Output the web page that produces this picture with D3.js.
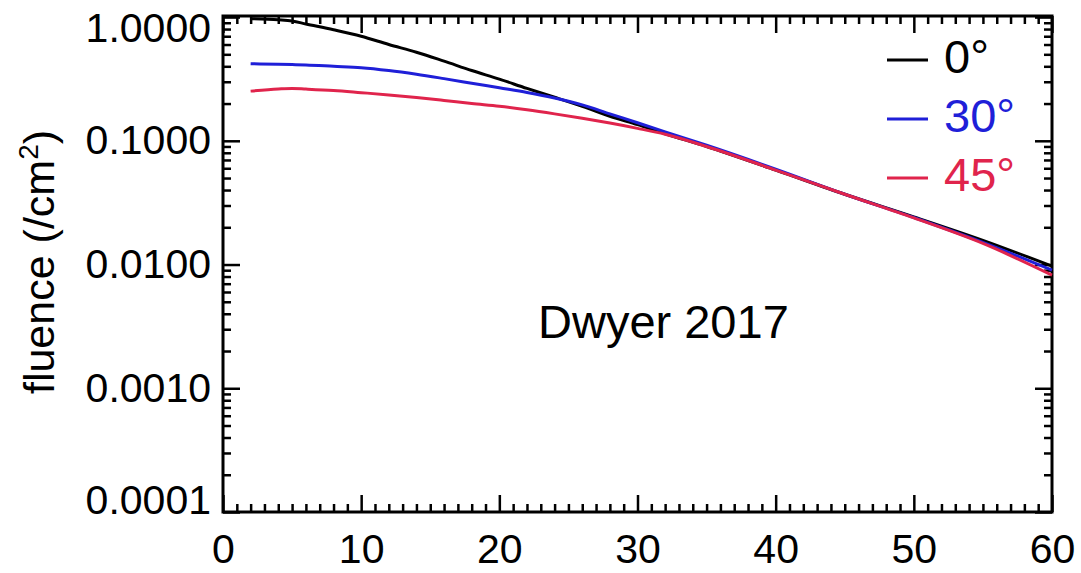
<!DOCTYPE html>
<html>
<head>
<meta charset="utf-8">
<script src="https://cdn.jsdelivr.net/npm/d3@7"></script>
<style>
  body { margin: 0; background: #fff; }
  text { font-family: "Liberation Sans", Arial, Helvetica, sans-serif; }
</style>
</head>
<body>
<div id="chart"></div>
<script>
var svgWidth = 1081;
var svgHeight = 573;

var margin = { top: 16, right: 29, bottom: 61, left: 223 };
var width = svgWidth - margin.left - margin.right;
var height = svgHeight - margin.top - margin.bottom;

// data
var depth = [2, 4, 5, 6, 8, 10, 12, 14, 16, 18, 20, 22, 24, 26, 28, 30, 32, 35, 40, 45, 50, 55, 60];
var fluence0 = [0.97, 0.95, 0.93, 0.88, 0.79, 0.70, 0.60, 0.52, 0.44, 0.37, 0.315, 0.265, 0.225, 0.19, 0.158, 0.135, 0.114, 0.09, 0.058, 0.037, 0.0243, 0.0157, 0.0097];
var fluence30 = [0.42, 0.415, 0.413, 0.41, 0.40, 0.39, 0.37, 0.345, 0.318, 0.292, 0.268, 0.246, 0.222, 0.195, 0.165, 0.14, 0.118, 0.092, 0.059, 0.037, 0.024, 0.0151, 0.0090];
var fluence45 = [0.252, 0.262, 0.265, 0.262, 0.255, 0.245, 0.235, 0.224, 0.212, 0.2, 0.19, 0.178, 0.165, 0.152, 0.139, 0.126, 0.113, 0.09, 0.058, 0.037, 0.0238, 0.0148, 0.0082];
var seriesNames = ["0", "30", "45"];
var seriesColors = ["#000000", "#1f1fd8", "#e0244c"];
var yTickValues = [0.0001, 0.001, 0.01, 0.1, 1];
var yTickLabels = ["0.0001", "0.0010", "0.0100", "0.1000", "1.0000"];
var xTickValues = [0, 10, 20, 30, 40, 50, 60];

var svg = d3.select("#chart")
    .append("svg")
    .attr("width", svgWidth)
    .attr("height", svgHeight);

var chartGroup = svg.append("g")
    .attr("transform", `translate(${margin.left}, ${margin.top})`);

var xScale = d3.scaleLinear().domain([0, 60]).range([0, width]);
var yScale = d3.scaleLog().domain([0.0001, 1.02]).range([height, 0]);

// minor tick values
var xMinor = d3.range(0, 61).filter(d => d % 10 !== 0);
var yMinor = [];
[0.0001, 0.001, 0.01, 0.1].forEach(function (dec) {
    for (var k = 2; k <= 9; k++) yMinor.push(dec * k);
});

function styleAxis(g) {
    g.select(".domain").remove();
    g.selectAll(".tick line").attr("stroke", "#000").attr("stroke-width", 2.5);
    return g;
}

// bottom
chartGroup.append("g")
    .attr("transform", `translate(0, ${height})`)
    .call(d3.axisBottom(xScale).tickValues(xTickValues).tickSizeInner(-17).tickSizeOuter(0).tickPadding(22))
    .call(styleAxis)
    .selectAll("text")
    .attr("font-size", "41px")
    .attr("fill", "#000");

chartGroup.append("g")
    .attr("transform", `translate(0, ${height})`)
    .call(d3.axisBottom(xScale).tickValues(xMinor).tickSizeInner(-8).tickSizeOuter(0).tickFormat(""))
    .call(styleAxis);

// top
chartGroup.append("g")
    .call(d3.axisTop(xScale).tickValues(xTickValues).tickSizeInner(-17).tickSizeOuter(0).tickFormat(""))
    .call(styleAxis);
chartGroup.append("g")
    .call(d3.axisTop(xScale).tickValues(xMinor).tickSizeInner(-8).tickSizeOuter(0).tickFormat(""))
    .call(styleAxis);

// left
var yLabels = chartGroup.append("g")
    .call(d3.axisLeft(yScale).tickValues(yTickValues).tickSizeInner(-17).tickSizeOuter(0).tickPadding(12)
        .tickFormat((d, i) => yTickLabels[i]))
    .call(styleAxis)
    .selectAll("text")
    .attr("font-size", "41px")
    .attr("fill", "#000");
// end labels pulled inside the frame, like the original
yLabels.filter(d => d === 1).attr("y", 11);
yLabels.filter(d => d === 0.0001).attr("y", -12);

chartGroup.append("g")
    .call(d3.axisLeft(yScale).tickValues(yMinor).tickSizeInner(-8).tickSizeOuter(0).tickFormat(""))
    .call(styleAxis);

// right
chartGroup.append("g")
    .attr("transform", `translate(${width}, 0)`)
    .call(d3.axisRight(yScale).tickValues(yTickValues).tickSizeInner(-17).tickSizeOuter(0).tickFormat(""))
    .call(styleAxis);
chartGroup.append("g")
    .attr("transform", `translate(${width}, 0)`)
    .call(d3.axisRight(yScale).tickValues(yMinor).tickSizeInner(-8).tickSizeOuter(0).tickFormat(""))
    .call(styleAxis);

// frame
chartGroup.append("rect")
    .attr("x", 0)
    .attr("y", 0)
    .attr("width", width)
    .attr("height", height)
    .attr("fill", "none")
    .attr("stroke", "#000")
    .attr("stroke-width", 3);

// curves
var lineGen = d3.line()
    .x((d, i) => xScale(depth[i]))
    .y(d => yScale(d))
    .curve(d3.curveMonotoneX);

[fluence0, fluence30, fluence45].forEach(function (vals, i) {
    chartGroup.append("path")
        .datum(vals)
        .attr("d", lineGen)
        .attr("fill", "none")
        .attr("stroke", seriesColors[i])
        .attr("stroke-width", 3);
});

// legend
var legend = svg.append("g").attr("transform", "translate(887, 60)");
seriesNames.forEach(function (name, i) {
    var row = legend.append("g").attr("transform", `translate(0, ${i * 59})`);
    row.append("line")
        .attr("x1", 0).attr("x2", 41)
        .attr("y1", 0).attr("y2", 0)
        .attr("stroke", seriesColors[i])
        .attr("stroke-width", 3);
    row.append("text")
        .attr("x", 57)
        .attr("y", 13)
        .attr("font-size", "47px")
        .attr("fill", seriesColors[i])
        .text(name + "\u00b0");
});

// y axis title
svg.append("text")
    .attr("transform", "translate(54, 262) rotate(-90)")
    .attr("text-anchor", "middle")
    .attr("font-size", "43px")
    .attr("fill", "#000")
    .html('fluence (/cm<tspan dy="-16" font-size="28px">2</tspan><tspan dy="16">)</tspan>');

// annotation
svg.append("text")
    .attr("x", 538)
    .attr("y", 338)
    .attr("font-family", "'Noto Sans CJK JP', 'Noto Sans', sans-serif")
    .attr("font-size", "47px")
    .attr("fill", "#000")
    .text("Dwyer 2017");
</script>
</body>
</html>
